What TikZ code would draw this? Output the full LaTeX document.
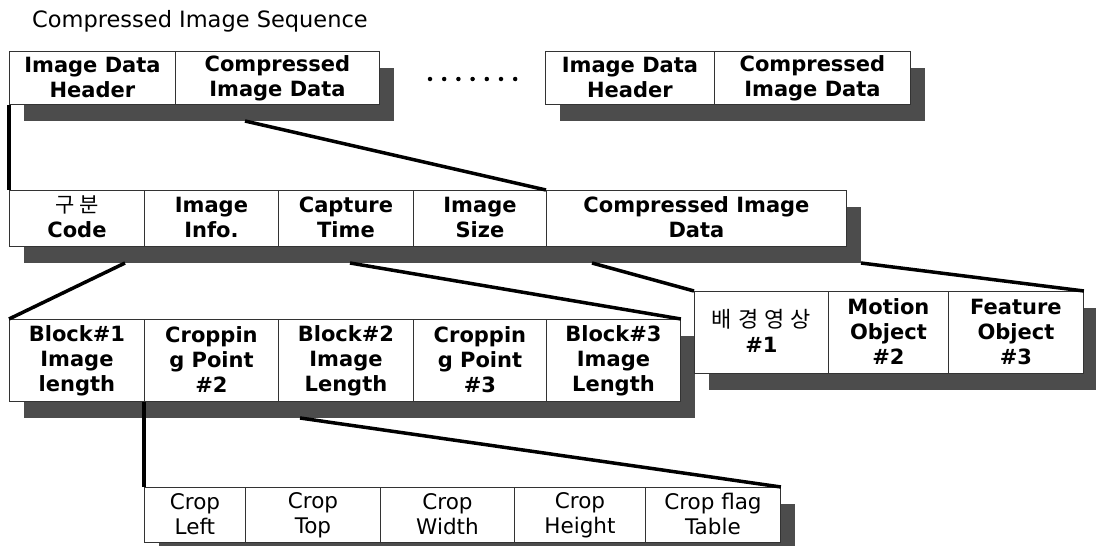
\documentclass[tikz,border=0pt]{standalone}
\usepackage{fontspec}
\setmainfont{DejaVu Sans}
\newfontfamily\krfont{Noto Sans CJK KR}
\newcommand\ms{\rule[-3pt]{0pt}{20pt}}
\usetikzlibrary{calc}
\begin{document}
\begin{tikzpicture}[x=1pt,y=-1pt,
  cell/.style={draw=black!80, line width=0.9pt, fill=white, anchor=north west, inner sep=0pt, align=center,
    font=\bfseries\fontsize{21}{25}\selectfont},
  lowcell/.style={cell, font=\fontsize{21.5}{25}\selectfont},
  shadebox/.style={fill=black!70, draw=none, anchor=north west, inner sep=0pt, outer sep=0pt},
  conn/.style={line width=3.5pt, black},
  dot/.style={circle, fill=black, inner sep=0pt, minimum size=4.5pt}
]
\useasboundingbox (0,0) rectangle (1096,546);
\clip (0,0) rectangle (1096,546);

% title
\node[anchor=west, inner sep=0pt, font=\fontsize{22.5}{27}\selectfont] (title) at (32,21) {Compressed Image Sequence};

% ---------- row 1 ----------
\node[shadebox, minimum width=370, minimum height=53] (s1) at (24,68) {};
\node[shadebox, minimum width=365, minimum height=53] (s1b) at (560,68) {};
\node[cell, minimum width=166, minimum height=53] (h1) at (9,51) {\ms Image Data\\Header\ms};
\node[cell, minimum width=204, minimum height=53] (d1) at (175,51) {\ms Compressed\\Image Data\ms};
\node[cell, minimum width=169, minimum height=53] (h2) at (545,51) {\ms Image Data\\Header\ms};
\node[cell, minimum width=196, minimum height=53] (d2) at (714,51) {\ms Compressed\\Image Data\ms};
\foreach \i in {0,...,6} { \node[dot] (dt\i) at (430+14.2*\i,79) {}; }

% ---------- row 2 ----------
\node[shadebox, minimum width=837, minimum height=56] (s2) at (24,207) {};
\node[cell, minimum width=135, minimum height=56] (c2a) at (9,190) {\ms{\krfont\mdseries\fontsize{21}{25}\selectfont 구\hspace{5pt}분}\\Code\ms};
\node[cell, minimum width=134, minimum height=56] (c2b) at (144,190) {\ms Image\\Info.\ms};
\node[cell, minimum width=135, minimum height=56] (c2c) at (278,190) {\ms Capture\\Time\ms};
\node[cell, minimum width=133, minimum height=56] (c2d) at (413,190) {\ms Image\\Size\ms};
\node[cell, minimum width=300, minimum height=56] (c2e) at (546,190) {\ms Compressed Image\\Data\ms};

% ---------- row 3 ----------
\node[shadebox, minimum width=671, minimum height=82] (s3) at (24,336) {};
\node[cell, minimum width=135, minimum height=82] (c3a) at (9,319) {\ms Block\#1\\Image\\length\ms};
\node[cell, minimum width=134, minimum height=82] (c3b) at (144,319) {\ms Croppin\\g Point\\\#2\ms};
\node[cell, minimum width=135, minimum height=82] (c3c) at (278,319) {\ms Block\#2\\Image\\Length\ms};
\node[cell, minimum width=133, minimum height=82] (c3d) at (413,319) {\ms Croppin\\g Point\\\#3\ms};
\node[cell, minimum width=134, minimum height=82] (c3e) at (546,319) {\ms Block\#3\\Image\\Length\ms};

% ---------- right group ----------
\node[shadebox, minimum width=400, minimum height=82] (s4) at (709,308) {};
\node[cell, minimum width=134, minimum height=82] (g1) at (694,291) {\ms{\krfont\mdseries\fontsize{22}{25}\selectfont 배\hspace{6pt}경\hspace{6pt}영\hspace{6pt}상}\\\#1\ms};
\node[cell, minimum width=120, minimum height=82] (g2) at (828,291) {\ms Motion\\Object\\\#2\ms};
\node[cell, minimum width=135, minimum height=82] (g3) at (948,291) {\ms Feature\\Object\\\#3\ms};

% ---------- row 4 ----------
\node[shadebox, minimum width=636, minimum height=55] (s5) at (159,504) {};
\node[lowcell, minimum width=101, minimum height=55] (c4a) at (144,487) {\ms Crop\\Left\ms};
\node[lowcell, minimum width=135, minimum height=55] (c4b) at (245,487) {\ms Crop\\Top\ms};
\node[lowcell, minimum width=134, minimum height=55] (c4c) at (380,487) {\ms Crop\\Width\ms};
\node[lowcell, minimum width=131, minimum height=55] (c4d) at (514,487) {\ms Crop\\Height\ms};
\node[lowcell, minimum width=135, minimum height=55] (c4e) at (645,487) {\ms Crop flag\\Table\ms};

% ---------- connectors ----------
\coordinate (p1) at (245,121);
\coordinate (p2) at (125,263);
\coordinate (p3) at (350,263);
\coordinate (p4) at (592,263);
\coordinate (p5) at (300,418);
\draw[conn] (h1.south west) -- (c2a.north west);
\draw[conn] (p1) -- (c2e.north west);
\draw[conn] (p2) -- (c3a.north west);
\draw[conn] (p3) -- (c3e.north east);
\draw[conn] (p4) -- (g1.north west);
\draw[conn] (s2.south east) -- (g3.north east);
\draw[conn] (c3b.south west) -- (c4a.north west);
\draw[conn] (p5) -- (c4e.north east);
\end{tikzpicture}
\end{document}
